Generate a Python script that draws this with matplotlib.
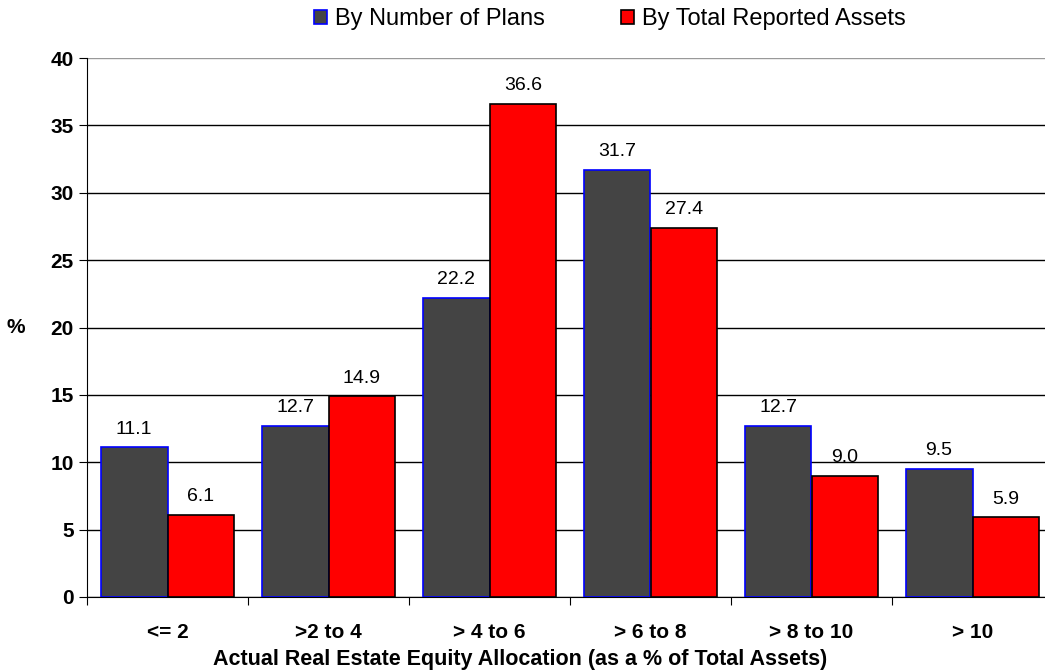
import numpy as np
import matplotlib
matplotlib.use('Agg')
import matplotlib.pyplot as plt

plt.rcParams['font.family'] = ['Liberation Sans', 'DejaVu Sans']

# data
categories = ['<= 2', '>2 to 4', '> 4 to 6', '> 6 to 8', '> 8 to 10', '> 10']
by_plans = [11.1, 12.7, 22.2, 31.7, 12.7, 9.5]
by_assets = [6.1, 14.9, 36.6, 27.4, 9.0, 5.9]
series_names = ['By Number of Plans', 'By Total Reported Assets']

fig = plt.figure(figsize=(10.45, 6.71), dpi=100)
ax = fig.add_axes([87 / 1045, 1 - 597 / 671, 966 / 1045, 539 / 671])

x = np.arange(len(categories))
w = 0.416
b1 = ax.bar(x - w / 2, by_plans, w, color='#444444', edgecolor='#0000ff', linewidth=1.2,
            label=series_names[0], zorder=3)
b2 = ax.bar(x + w / 2, by_assets, w, color='#ff0000', edgecolor='black', linewidth=1.2,
            label=series_names[1], zorder=3)

for bars, vals in ((b1, by_plans), (b2, by_assets)):
    for r, v in zip(bars, vals):
        ax.annotate('%.1f' % v, (r.get_x() + r.get_width() / 2, v),
                    xytext=(0, 7), textcoords='offset points',
                    ha='center', va='bottom', fontsize=14)

ax.set_xlim(-0.5, len(categories) - 0.5)
ax.set_ylim(0, 40)
ax.set_yticks(np.arange(0, 41, 5))
ax.tick_params(axis='y', direction='out', length=6, labelsize=15)
for t in ax.get_yticklabels():
    t.set_fontweight('bold')

# boundaries get the tick marks, centres get the labels
ax.set_xticks(np.arange(-0.5, len(categories), 1))
ax.set_xticklabels([])
ax.set_xticks(x, minor=True)
ax.set_xticklabels(categories, minor=True, fontsize=15, fontweight='bold')
ax.tick_params(axis='x', which='major', direction='out', length=6)
ax.tick_params(axis='x', which='minor', length=0, pad=19)

ax.yaxis.grid(True, color='black', linewidth=1, zorder=0)
ax.get_ygridlines()[-1].set_color('#999999')
ax.set_axisbelow(True)
for s in ('top', 'right'):
    ax.spines[s].set_visible(False)

ax.set_xlabel('Actual Real Estate Equity Allocation (as a % of Total Assets)',
              fontsize=15.5, fontweight='bold', va='center')
ax.xaxis.set_label_coords((520 - 87) / 966, -63 / 539)
ax.set_ylabel('%', fontsize=15, fontweight='bold', rotation=0, ha='center', va='center')
ax.yaxis.set_label_coords(-0.074, 0.5)

fig.legend(handles=[b1, b2], loc='center', bbox_to_anchor=(610 / 1045, 1 - 19 / 671),
           ncol=2, frameon=False, fontsize=17, handlelength=0.55, handleheight=0.55,
           handletextpad=0.35, columnspacing=3.2)

fig.savefig('out.png', dpi=100)
